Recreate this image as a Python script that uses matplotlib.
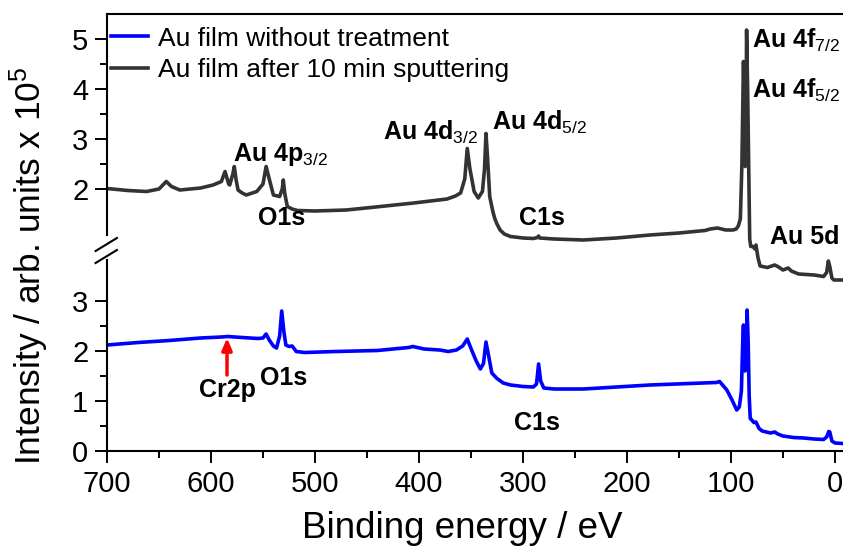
import matplotlib
matplotlib.use("Agg")
import matplotlib.pyplot as plt
from matplotlib.ticker import MultipleLocator, FixedLocator, FixedFormatter

plt.rcParams['font.family'] = ['Liberation Sans', 'DejaVu Sans']
plt.rcParams['mathtext.fontset'] = 'custom'
plt.rcParams['mathtext.rm'] = 'Liberation Sans'
plt.rcParams['mathtext.it'] = 'Liberation Sans:italic'
plt.rcParams['mathtext.bf'] = 'Liberation Sans:bold'

# XPS survey spectra: binding energy (eV), intensity (x 1e5)
be_untreated = [700, 670, 640, 610, 590, 584, 570, 555, 550, 547, 544, 540, 537, 534, 532,
                530, 528, 525, 522, 518, 510, 480, 440, 410, 406, 395, 380, 372, 364, 358,
                353.6, 350, 345, 341, 338, 335.6, 333, 330, 325, 319, 312, 300, 290, 287,
                285, 283, 280, 270, 242, 210, 178, 140, 114, 111, 104, 99, 94.5, 92, 90,
                88.5, 88, 87, 86.5, 85.5, 84.5, 83.5, 82.5, 81.5, 80, 78, 76, 73, 70, 62,
                58, 55, 50, 40, 30, 20, 11, 8, 6, 5, 3, 0, -7.7]
int_untreated = [2.12, 2.17, 2.21, 2.26, 2.28, 2.29, 2.27, 2.25, 2.26, 2.34, 2.22, 2.10, 2.06, 2.30, 2.80,
                 2.40, 2.12, 2.09, 2.10, 1.99, 1.97, 1.99, 2.01, 2.07, 2.09, 2.04, 2.02, 1.99, 2.02, 2.10,
                 2.24, 2.05, 1.80, 1.64, 1.75, 2.18, 1.90, 1.56, 1.45, 1.36, 1.32, 1.29, 1.28, 1.34,
                 1.74, 1.40, 1.26, 1.24, 1.24, 1.28, 1.32, 1.35, 1.37, 1.39, 1.22, 1.02, 0.82, 0.88, 1.20,
                 2.35, 2.52, 1.90, 1.60, 2.00, 2.82, 2.20, 1.10, 0.65, 0.62, 0.57, 0.58, 0.45, 0.40, 0.36,
                 0.38, 0.34, 0.30, 0.27, 0.26, 0.24, 0.23, 0.28, 0.39, 0.38, 0.20, 0.16, 0.15]

be_sputtered = [700, 680, 662, 650, 643, 638, 630, 610, 598, 590, 586.5, 583, 582, 579, 577.6,
                576, 574, 570, 566, 556, 550, 547, 544, 540, 534, 531.5, 530.5, 529, 526.6, 522,
                517, 500, 470, 437, 405, 373, 365, 360, 356, 353.6, 351, 347, 343, 339, 337,
                335.6, 334, 332, 329, 327, 325, 322, 318, 312, 300, 290, 286, 285, 284, 270,
                242, 210, 178, 150, 125, 120, 113, 105, 98, 95, 93, 91, 89.5, 88.5, 88, 87,
                86.3, 85.5, 85, 84, 83, 82, 81, 79, 77, 76, 74, 72, 65, 58, 55, 50, 45, 42,
                35, 20, 11, 8, 6.4, 5, 3, 1, -7.7]
int_sputtered = [2.01, 1.97, 1.95, 2.00, 2.15, 2.05, 1.98, 2.02, 2.08, 2.15, 2.35, 2.10, 2.08, 2.30, 2.45,
                 2.20, 1.98, 1.92, 1.88, 1.95, 2.10, 2.45, 2.20, 1.88, 1.85, 2.00, 2.18, 1.90, 1.65, 1.60,
                 1.57, 1.56, 1.58, 1.65, 1.72, 1.80, 1.86, 1.92, 2.20, 2.81, 2.40, 1.95, 1.82, 1.95, 2.40,
                 3.11, 2.60, 1.85, 1.55, 1.40, 1.30, 1.18, 1.10, 1.05, 1.02, 1.01, 1.03, 1.06, 1.02, 1.00,
                 0.98, 1.02, 1.08, 1.12, 1.17, 1.20, 1.22, 1.18, 1.18, 1.20, 1.26, 1.40, 2.50, 3.90, 4.55, 3.30,
                 2.45, 3.50, 5.18, 4.00, 2.50, 1.00, 0.85, 0.85, 0.80, 0.88, 0.62, 0.46, 0.43, 0.48, 0.45, 0.38, 0.42, 0.36,
                 0.30, 0.28, 0.25, 0.33, 0.56, 0.45, 0.22, 0.18, 0.18]

lower_ticks = [0, 1, 2, 3]
upper_ticks = [2, 3, 4, 5]
lower_minor = [0.5, 1.5, 2.5]
upper_minor = [2.5, 3.5, 4.5]

OFFSET = 3.24  # vertical shift of the sputtered spectrum above the axis break
BLUE = '#0000ff'
GREY = '#333333'

fig = plt.figure(figsize=(8.43, 5.49), dpi=100)
ax = fig.add_axes([107 / 843, 98 / 549, 736 / 843, 437 / 549])

ax.plot(be_untreated, int_untreated, color=BLUE, lw=2.6, label='Au film without treatment')
ax.plot(be_sputtered, [v + OFFSET for v in int_sputtered], color=GREY, lw=2.6,
        label='Au film after 10 min sputtering')

ax.set_xlim(700, -7.7)
ax.set_ylim(0, 8.74)

ax.xaxis.set_major_locator(MultipleLocator(100))
ax.xaxis.set_minor_locator(MultipleLocator(50))
yt = lower_ticks + [t + OFFSET for t in upper_ticks]
ax.yaxis.set_major_locator(FixedLocator(yt))
ax.yaxis.set_major_formatter(FixedFormatter([str(t) for t in lower_ticks + upper_ticks]))
ax.yaxis.set_minor_locator(FixedLocator(lower_minor + [t + OFFSET for t in upper_minor]))

ax.tick_params(which='major', direction='out', length=8.5, width=1.4, labelsize=21, pad=5)
ax.tick_params(which='minor', direction='out', length=5, width=1.4)

for s in ['bottom', 'top', 'right']:
    ax.spines[s].set_linewidth(1.5)
ax.spines['right'].set_visible(False)

# broken left spine
ax.spines['left'].set_linewidth(1.5)
ax.spines['left'].set_bounds(0, 3.83)
ax.plot([0, 0], [4.32, 8.74], color='k', lw=1.5, transform=ax.get_yaxis_transform(),
        clip_on=False)
for yc in (4.13, 3.89):
    ax.plot([-0.0155, 0.0135], [yc - 0.13, yc + 0.13], color='k', lw=1.5,
            transform=ax.get_yaxis_transform(), clip_on=False)

ax.set_xlabel('Binding energy / eV', fontsize=26.5)
ax.xaxis.set_label_coords(0.482, -0.138)
ax.set_ylabel('Intensity / arb. units x 10$^5$', fontsize=25.5)
ax.yaxis.set_label_coords(-0.076, 0.425)

ann = dict(fontsize=18, fontweight='bold', va='center', ha='left')
ax.text(579, 5.92, 'Au 4p$_{3/2}$', **ann)
ax.text(555, 4.66, 'O1s', **ann)
ax.text(435, 6.38, 'Au 4d$_{3/2}$', **ann)
ax.text(330, 6.58, 'Au 4d$_{5/2}$', **ann)
ax.text(304, 4.66, 'C1s', **ann)
ax.text(80, 8.22, 'Au 4f$_{7/2}$', **ann)
ax.text(80, 7.22, 'Au 4f$_{5/2}$', **ann)
ax.text(62.5, 4.28, 'Au 5d', **ann)
ax.text(553, 1.46, 'O1s', **ann)
ax.text(584, 1.22, 'Cr2p', fontsize=18, fontweight='bold', va='center', ha='center')
ax.text(309, 0.56, 'C1s', **ann)

ax.annotate('', xy=(584.6, 2.26), xytext=(584.6, 1.52),
            arrowprops=dict(arrowstyle='-|>,head_length=0.7,head_width=0.3',
                            color='red', lw=2.5, shrinkA=0, shrinkB=0))

ax.legend(loc='upper left', bbox_to_anchor=(0.005, 0.971), frameon=False, fontsize=19,
          borderpad=0, borderaxespad=0, handlelength=1.4, handletextpad=0.38,
          labelspacing=0.29)

fig.savefig('out.png', dpi=100)
